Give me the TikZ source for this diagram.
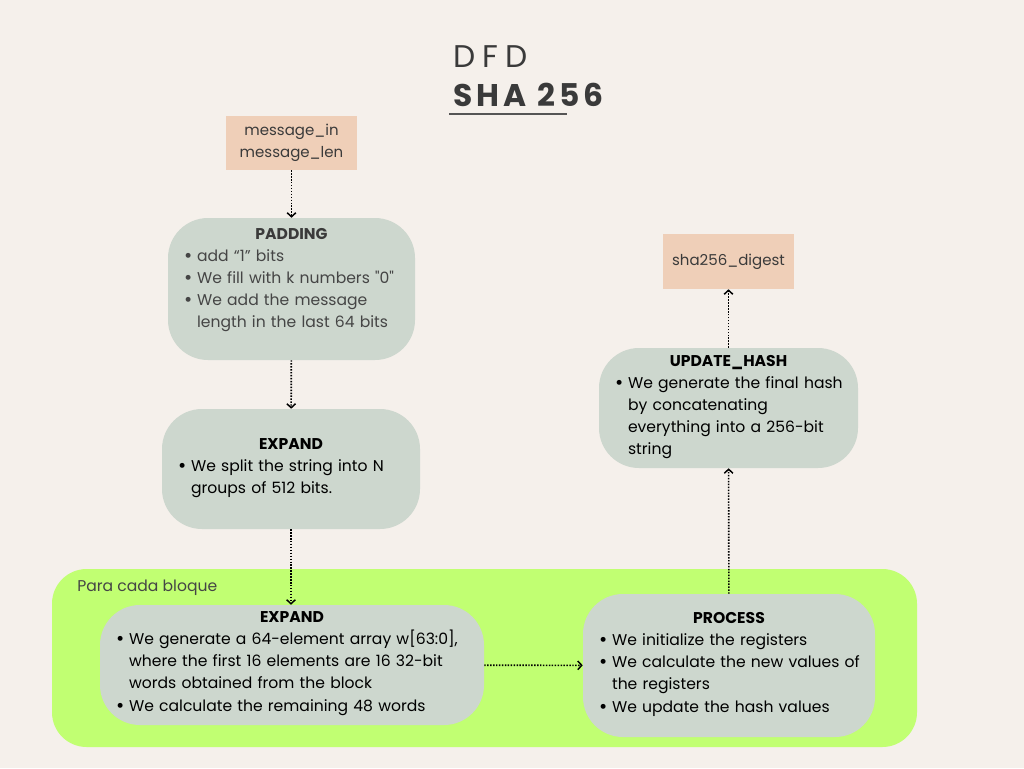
\documentclass[tikz,border=0pt]{standalone}
\usepackage{fontspec}
\setmainfont{Poppins}
\usepackage{xcolor}
\usetikzlibrary{arrows.meta}
\definecolor{bgcolor}{HTML}{F5F0EB}
\definecolor{boxcolor}{HTML}{CDD7CE}
\definecolor{iocolor}{HTML}{EFCFB8}
\definecolor{loopcolor}{HTML}{C1FF72}
\definecolor{textgray}{HTML}{3A3A3A}
\definecolor{bodygray}{HTML}{454545}
\definecolor{rulegray}{HTML}{555555}

\newcommand{\boxtitle}[1]{{\centering\bfseries #1\par}}
\newcommand{\bitem}[1]{\par\noindent\makebox[9.8pt][l]{\raisebox{-0.12ex}{\fontsize{15}{15}\selectfont\textbullet}}\begin{tabular}[t]{@{}l@{}}#1\end{tabular}}

\tikzset{
    flowbox/.style = {fill = boxcolor, rounded corners = 30pt, inner xsep = 12pt, inner ysep = 0pt, align = left, text = black, font = \fontsize{11.7}{16.5}\selectfont},
    iobox/.style = {fill = iocolor, inner sep = 0pt, align = center, text = textgray, font = \fontsize{11.25}{16.5}\selectfont},
    flowarrow/.style = {-{Straight Barb[length = 3pt, width = 6.5pt, line width = 1.1pt]}, line width = 1.2pt, dash pattern = on 1.1pt off 1.1pt},
}

\begin{document}
\begin{tikzpicture}[x = 0.75pt, y = -0.75pt]
        % Background
        \fill [bgcolor] (0, 0) rectangle (1024, 768);
        \useasboundingbox (0, 0) rectangle (1024, 768);

        % Title
        \node [anchor = base west, inner sep = 0pt, text = textgray, font = \fontsize{23.5}{28}\selectfont\addfontfeatures{LetterSpace = 22}] (dfd) at (453, 67) {DFD};
        \node [anchor = base west, inner sep = 0pt, text = textgray, font = \fontsize{23.5}{28}\selectfont\bfseries\addfontfeatures{LetterSpace = 13}] (sha) at (453, 106) {SHA 256};
        \draw [rulegray, line width = 0.9pt] (449, 114) -- (567, 114);

        % Loop area
        \node [fill = loopcolor, rounded corners = 26pt, minimum width = 648.75pt, minimum height = 133.5pt] (loop) at (484.5, 658) {};
        \node [anchor = base west, inner sep = 0pt, text = bodygray, font = \fontsize{11.7}{16.5}\selectfont] (looplabel) at (77, 591) {Para cada bloque};

        % Inputs and output
        \node [iobox, minimum width = 98.25pt, minimum height = 40.5pt] (msgin) at (291.5, 143) {message\_in\\message\_len};
        \node [iobox, minimum width = 98.25pt, minimum height = 41.25pt] (digest) at (728.5, 261.5) {sha256\_digest};

        % Steps
        \node [flowbox, text width = 161.25pt, minimum height = 106.5pt, text = bodygray] (padding) at (291.5, 289) {%
            {\color{textgray}\boxtitle{PADDING}}%
            \bitem{add “1” bits}
            \bitem{We fill with k numbers \textquotedbl0\textquotedbl}
            \bitem{We add the message\\length in the last 64 bits}
            \par\mbox{}\par\vspace{10.5pt}};
        \node [flowbox, text width = 169.5pt, minimum height = 90pt] (expand) at (291, 469) {%
            \boxtitle{EXPAND}%
            \bitem{We split the string into N\\groups of 512 bits.}};
        \node [flowbox, text width = 264pt, minimum height = 90pt] (expandblk) at (292, 665) {%
            \boxtitle{EXPAND}%
            \bitem{We generate a 64-element array w[63:0],\\where the first 16 elements are 16 32-bit\\words obtained from the block}
            \bitem{We calculate the remaining 48 words}};
        \node [flowbox, text width = 195pt, minimum height = 107.25pt] (process) at (729, 665.5) {%
            \boxtitle{PROCESS}%
            \bitem{We initialize the registers}
            \bitem{We calculate the new values of\\the registers}
            \bitem{We update the hash values}};
        \node [flowbox, text width = 170.25pt, minimum height = 90pt] (update) at (728.5, 408) {%
            \boxtitle{UPDATE\_HASH}%
            \bitem{We generate the final hash\\by concatenating\\everything into a 256-bit\\string}};

        % Draw the links
        \draw [flowarrow] (msgin) -- (padding);
        \draw [flowarrow] (padding) -- (expand);
        \draw [flowarrow] (expand.south) -- (expand.south |- expandblk.north);
        \draw [flowarrow] (expandblk) -- (process);
        \draw [flowarrow] (process) -- (update);
        \draw [flowarrow] (update) -- (digest);

\end{tikzpicture}
\end{document}
